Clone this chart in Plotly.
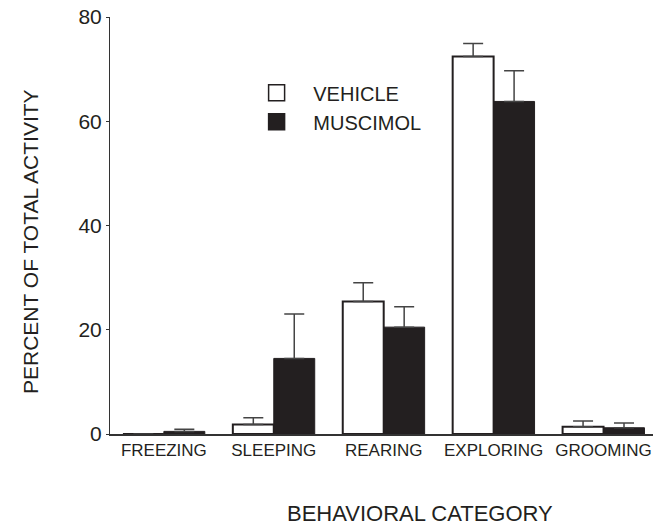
import plotly.graph_objects as go

categories = ["FREEZING", "SLEEPING", "REARING", "EXPLORING", "GROOMING"]
vehicle = [0.0, 1.8, 25.4, 72.4, 1.4]
vehicle_err = [0.0, 1.3, 3.6, 2.5, 1.1]
muscimol = [0.5, 14.5, 20.5, 63.8, 1.2]
muscimol_err = [0.4, 8.5, 3.9, 5.9, 0.9]
y_ticks = [0, 20, 40, 60, 80]

dark = "#231f20"
font = "Liberation Sans, Arial, sans-serif"
pad = "\u00a0" * 3

fig = go.Figure()
fig.add_trace(go.Bar(
    x=categories, y=vehicle, name="VEHICLE", showlegend=False,
    marker=dict(color="white", line=dict(color=dark, width=2)),
    error_y=dict(type="data", symmetric=False, array=vehicle_err,
                 arrayminus=[0] * len(vehicle_err), color="#444", thickness=1.5, width=10),
))
fig.add_trace(go.Bar(
    x=categories, y=muscimol, name="MUSCIMOL", showlegend=False,
    marker=dict(color=dark, line=dict(color=dark, width=1)),
    error_y=dict(type="data", symmetric=False, array=muscimol_err,
                 arrayminus=[0] * len(muscimol_err), color="#444", thickness=1.5, width=10),
))
# legend entries
fig.add_trace(go.Scatter(x=[None], y=[None], mode="markers", name=pad + "VEHICLE",
                         marker=dict(symbol="square", size=16, color="white",
                                     line=dict(color=dark, width=1.5))))
fig.add_trace(go.Scatter(x=[None], y=[None], mode="markers", name=pad + "MUSCIMOL",
                         marker=dict(symbol="square", size=16, color=dark,
                                     line=dict(color=dark, width=1.5))))

fig.update_layout(
    width=653, height=525,
    margin=dict(l=110, r=0, t=17, b=91),
    plot_bgcolor="white", paper_bgcolor="white",
    barmode="group", bargap=0.255, bargroupgap=0,
    font=dict(family=font, color=dark),
    showlegend=True,
    legend=dict(x=0.27, y=0.865, xanchor="left", yanchor="top",
                font=dict(size=20, color=dark), bgcolor="rgba(0,0,0,0)",
                tracegroupgap=0, itemwidth=30),
    xaxis=dict(
        range=[-0.49, 4.45], showline=True, linecolor="#333", linewidth=1.5,
        ticks="", tickfont=dict(size=17, color=dark), showgrid=False, zeroline=False,
    ),
    yaxis=dict(
        range=[0, 80], tickvals=y_ticks, showline=True, linecolor="#333", linewidth=1,
        ticks="outside", ticklen=3, tickcolor="#333", tickfont=dict(size=21, color=dark),
        showgrid=False, zeroline=False,
    ),
    annotations=[
        dict(text="BEHAVIORAL CATEGORY", xref="paper", yref="paper",
             x=(420 - 110) / 543, y=-(513 - 434) / 417, xanchor="center", yanchor="middle",
             showarrow=False, font=dict(size=22, color=dark)),
        dict(text="PERCENT OF TOTAL ACTIVITY", xref="paper", yref="paper",
             x=-(110 - 30) / 543, y=(434 - 242) / 417, xanchor="center", yanchor="middle",
             textangle=-90, showarrow=False, font=dict(size=21, color=dark)),
    ],
)

fig.write_html("out.html")
